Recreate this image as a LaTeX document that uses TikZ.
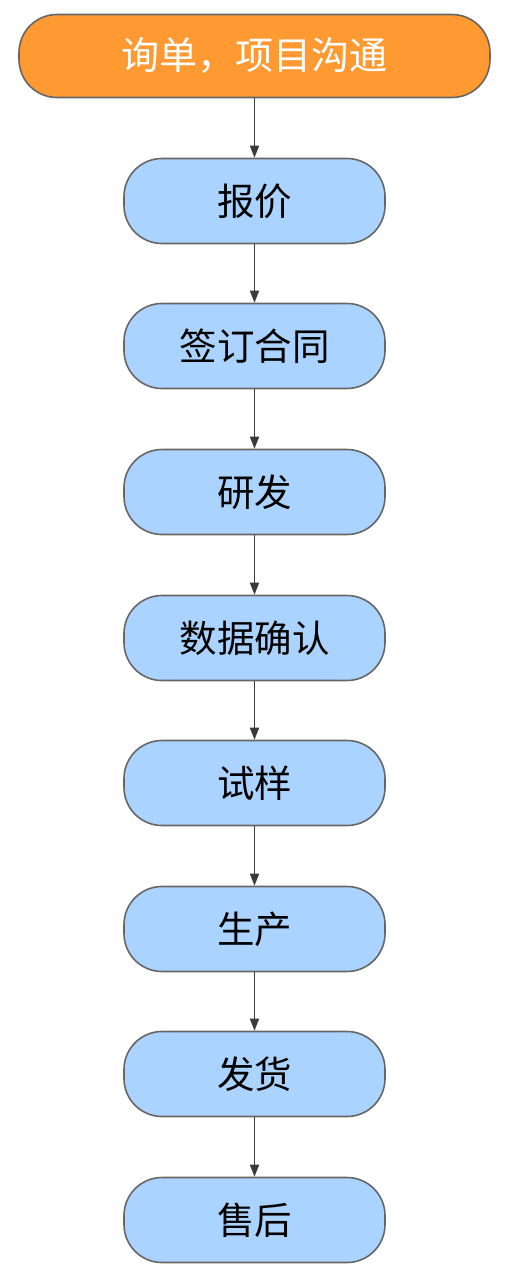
\documentclass[tikz,border=0pt]{standalone}
\usepackage{fontspec}
\newfontfamily\cjk{Noto Sans CJK SC}
\usetikzlibrary{arrows.meta}
\definecolor{orangefill}{HTML}{FF9A33}
\definecolor{bluefill}{HTML}{AAD4FF}
\definecolor{edgegray}{HTML}{666666}
\definecolor{arrowgray}{HTML}{3A3A3A}
\tikzset{
  startbox/.style={draw=edgegray, line width=1.6pt, fill=orangefill, rounded corners=38pt,
    minimum width=471pt, minimum height=83pt, inner sep=0pt, font=\cjk\fontsize{38}{42}\selectfont, text=white},
  stepbox/.style={draw=edgegray, line width=1.6pt, fill=bluefill, rounded corners=38pt,
    minimum width=261pt, minimum height=85pt, inner sep=0pt, font=\cjk\fontsize{37.5}{42}\selectfont, text=black},
  flow/.style={draw=arrowgray, line width=1.5pt, -{Triangle[length=12pt,width=9pt]}}
}
\begin{document}
\begin{tikzpicture}[x=1pt,y=-1pt]
\useasboundingbox[fill=white] (0,0) rectangle (515,1279);
\node[startbox] (n0) at (254.5,56) {询单，项目沟通};
\node[stepbox] (n1) at (254.5,201) {报价};
\node[stepbox] (n2) at (254.5,346) {签订合同};
\node[stepbox] (n3) at (254.5,492) {研发};
\node[stepbox] (n4) at (254.5,638) {数据确认};
\node[stepbox] (n5) at (254.5,783) {试样};
\node[stepbox] (n6) at (254.5,929) {生产};
\node[stepbox] (n7) at (254.5,1074) {发货};
\node[stepbox] (n8) at (254.5,1220) {售后};
\foreach \a/\b in {n0/n1,n1/n2,n2/n3,n3/n4,n4/n5,n5/n6,n6/n7,n7/n8}
  \draw[flow] (\a) -- (\b);
\end{tikzpicture}
\end{document}
